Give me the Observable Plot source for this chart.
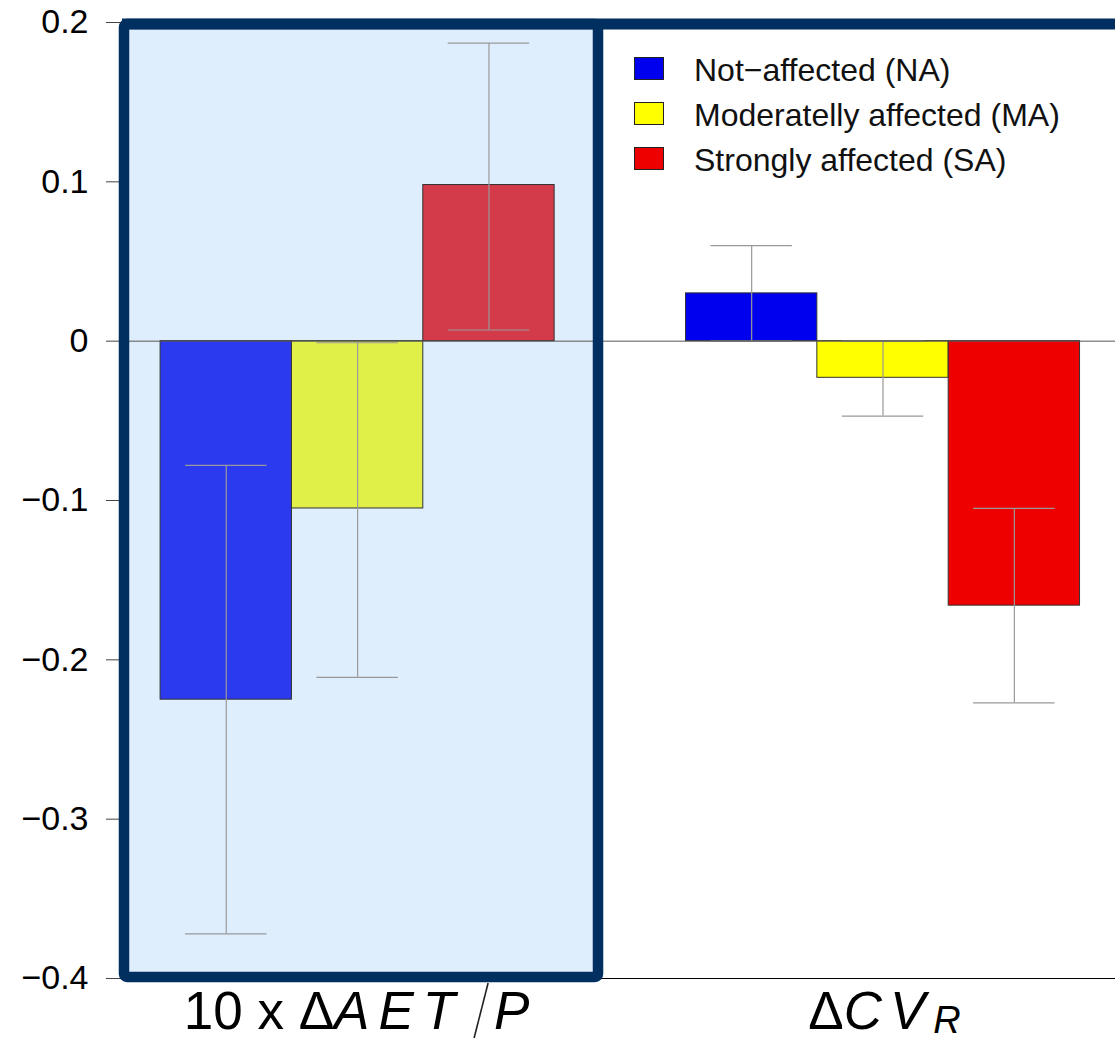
<!DOCTYPE html>
<html>
<head>
<meta charset="utf-8">
<script src="https://cdn.jsdelivr.net/npm/d3@7"></script>
<script src="https://cdn.jsdelivr.net/npm/@observablehq/plot@0.6"></script>
<style>
  html, body { margin: 0; padding: 0; background: #fff; }
  #wrap { position: relative; width: 1115px; height: 1041px; font-family: "Liberation Sans", Arial, sans-serif; }
  #legend { position: absolute; left: 634px; top: 46px; }
  .row { display: flex; align-items: center; height: 45px; }
  .row .sw { width: 30px; height: 23px; border: 1px solid #222; margin-right: 30px; box-sizing: border-box; }
  .row span { font-size: 32px; color: #111; line-height: 1; position: relative; top: 1px; }
</style>
</head>
<body>
<div id="wrap"></div>
<script>
// ---- data ----
const groups = ["AET", "CVR"];
const seriesKeys = ["NA", "MA", "SA"];
const seriesNames = ["Not\u2212affected (NA)", "Moderatelly affected (MA)", "Strongly affected (SA)"];
const aetMean = [-0.225, -0.105, 0.098];
const aetLow  = [-0.372, -0.211, 0.007];
const aetHigh = [-0.078, -0.001, 0.187];
const cvrMean = [0.030, -0.023, -0.166];
const cvrLow  = [0.000, -0.047, -0.227];
const cvrHigh = [0.060, 0.000, -0.105];
const yTicks = [-0.4, -0.3, -0.2, -0.1, 0, 0.1, 0.2];

// ---- styles ----
const aetColors = ["#2c3aef", "#e0f048", "#d33a4a"];
const cvrColors = ["#0000ee", "#ffff00", "#ee0000"];
const navy = "#012f5f";

const means = [aetMean, cvrMean], lows = [aetLow, cvrLow], highs = [aetHigh, cvrHigh];
const rows = groups.flatMap((g, gi) => seriesKeys.map((s, si) => ({
  group: g, series: s, key: g + "-" + s, pos: gi * 4 + si,
  mean: means[gi][si], low: lows[gi][si], high: highs[gi][si]
})));
const colorDomain = rows.map(d => d.key);
const colorRange = [...aetColors, ...cvrColors];
const fmt = d3.format("~g");

const plot = Plot.plot({
  width: 1115, height: 1041,
  marginLeft: 122, marginRight: 0, marginTop: 22, marginBottom: 63,
  x: {domain: [-0.29, 7.27], axis: null},
  y: {domain: [-0.4, 0.2], label: null},
  color: {domain: colorDomain, range: colorRange},
  style: {fontFamily: "'Liberation Sans', Arial, sans-serif", fontSize: "34px", color: "#000", background: "#fff"},
  marks: [
    Plot.frame({fill: "#deeefd", stroke: null, insetLeft: 1.5, insetTop: 1.5, insetBottom: 1.5, insetRight: 517.5}),
    Plot.axisY({ticks: yTicks, tickFormat: fmt, tickSize: 16, tickPadding: 18, stroke: "#444", fill: "#000", label: null, fontSize: 34}),
    Plot.ruleY([-0.4], {stroke: "#000", strokeWidth: 1.2}),
    Plot.rect(rows, {x1: "pos", x2: d => d.pos + 1, y1: 0, y2: "mean", fill: "key", stroke: "#333", strokeWidth: 1}),
    Plot.ruleX(rows, {x: d => d.pos + 0.5, y1: "low", y2: "high", stroke: "#999", strokeWidth: 1.2}),
    Plot.ruleY(rows, {y: "low", x1: d => d.pos + 0.19, x2: d => d.pos + 0.81, stroke: "#999", strokeWidth: 1.2}),
    Plot.ruleY(rows, {y: "high", x1: d => d.pos + 0.19, x2: d => d.pos + 0.81, stroke: "#999", strokeWidth: 1.2}),
    Plot.ruleY([0], {stroke: "#555", strokeWidth: 1}),
    Plot.ruleY([0.2], {stroke: navy, strokeWidth: 11, dy: 1.5}),
    Plot.frame({stroke: navy, strokeWidth: 10.5, fill: null, rx: 3, insetLeft: 1.5, insetTop: 1.5, insetBottom: 1.5, insetRight: 517.5})
  ]
});

const wrap = document.getElementById("wrap");
wrap.appendChild(plot);

// ---- x group labels (math-style) ----
const xs = plot.scale("x");
const svg = d3.select(plot);
const labelY = 1029;
const font = "'Liberation Sans', Arial, sans-serif";

// first label: 10 x ΔAET / P
const c1 = xs.apply(1.5);
const t1a = svg.append("text")
  .attr("x", c1 + 107).attr("y", labelY).attr("text-anchor", "end")
  .style("font-family", font).style("font-size", "53px").attr("fill", "#000");
t1a.append("tspan").text("10 x ");
t1a.append("tspan").text("\u0394");
t1a.append("tspan").attr("font-style", "italic").attr("letter-spacing", "9").text("AET");
svg.append("line")
  .attr("x1", c1 + 131).attr("y1", 983).attr("x2", c1 + 117).attr("y2", 1038)
  .attr("stroke", "#222").attr("stroke-width", 1.6);
svg.append("text")
  .attr("x", c1 + 137).attr("y", labelY).attr("text-anchor", "start")
  .style("font-family", font).style("font-size", "53px").style("font-style", "italic")
  .attr("fill", "#000").text("P");

// second label: ΔCV_R
const t2 = svg.append("text")
  .attr("x", xs.apply(5.5) + 2).attr("y", labelY)
  .attr("text-anchor", "middle")
  .style("font-family", font).style("font-size", "53px").attr("fill", "#000");
t2.append("tspan").text("\u0394");
t2.append("tspan").attr("font-style", "italic").attr("letter-spacing", "8").text("CV");
t2.append("tspan").attr("font-style", "italic").attr("font-size", "38px").attr("dy", "4").text("R");

// ---- legend ----
const legend = document.createElement("div");
legend.id = "legend";
seriesNames.forEach((name, i) => {
  const row = document.createElement("div");
  row.className = "row";
  const sw = document.createElement("div");
  sw.className = "sw";
  sw.style.background = cvrColors[i];
  const lab = document.createElement("span");
  lab.textContent = name;
  row.appendChild(sw);
  row.appendChild(lab);
  legend.appendChild(row);
});
wrap.appendChild(legend);
</script>
</body>
</html>
